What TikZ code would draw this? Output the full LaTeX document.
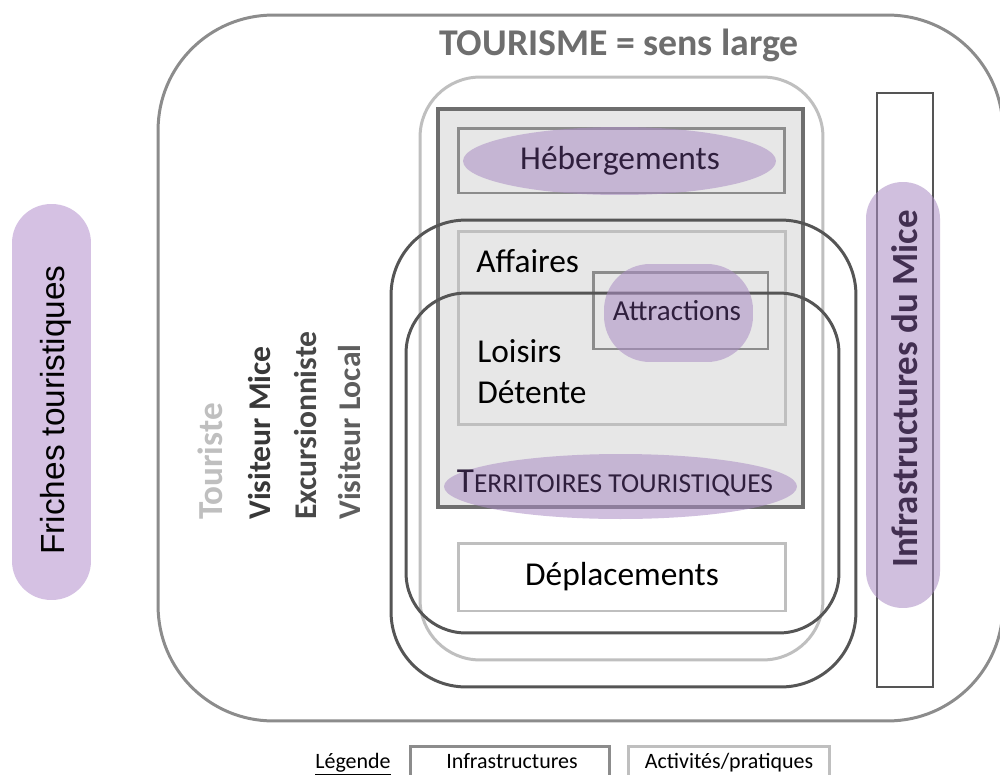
\documentclass[tikz,border=0pt]{standalone}
\usepackage{fontspec}
\setmainfont{Carlito}
\newfontfamily\arialf{Liberation Sans}
\usetikzlibrary{shapes.geometric}
\definecolor{purp}{RGB}{170,140,195}
\definecolor{ptext}{RGB}{47,31,61}
\definecolor{gmid}{RGB}{140,140,140}
\definecolor{glight}{RGB}{191,191,191}
\definecolor{gdark}{RGB}{110,110,110}
\definecolor{gblk}{RGB}{85,85,85}
\definecolor{gfill}{RGB}{231,231,231}
\definecolor{friche}{RGB}{213,193,227}
\begin{document}
\begin{tikzpicture}[x=0.02cm,y=-0.02cm,
  frame/.style={draw, inner sep=0pt, line width=1.7pt},
  infra/.style={frame, draw=gmid},
  activ/.style={frame, draw=glight},
  visit/.style={draw=gblk, inner sep=0pt, line width=1.7pt},
  blob/.style={fill=purp, fill opacity=0.55, text opacity=1, inner sep=0pt},
  lbl/.style={font=\fontsize{19pt}{22pt}\selectfont},
  vlbl/.style={rotate=90, anchor=base west, inner sep=0pt, font=\bfseries\fontsize{18pt}{20pt}\selectfont},
  leg/.style={font=\fontsize{12.5pt}{15pt}\selectfont}]
\clip (0,0) rectangle (1000,774);
\fill[white] (0,0) rectangle (1000,774);
% outer frame
\node[draw=gmid, line width=1.7pt, inner sep=0pt, rounded corners=2.3cm,
  minimum width=16.9cm, minimum height=14.12cm] (outer) at (580.5,368) {};
\node[font=\bfseries\fontsize{21.5pt}{24pt}\selectfont, text=gdark] (title) at (619,45) {TOURISME = sens large};
% activities rounded frame
\node[activ, rounded corners=1.2cm, minimum width=8.06cm, minimum height=11.66cm] (act) at (621.5,368.5) {};
% infrastructure frame
\node[frame, draw=gdark, line width=2.3pt, fill=gfill, minimum width=7.3cm, minimum height=7.96cm] (inf) at (620.5,308) {};
\node[infra, minimum width=6.54cm, minimum height=1.3cm] (hebbox) at (621.5,160.5) {};
\node[activ, minimum width=6.56cm, minimum height=3.88cm] (affbox) at (622,328) {};
\node[infra, minimum width=3.5cm, minimum height=1.54cm] (attbox) at (680.5,310.5) {};
\node[activ, fill=white, minimum width=6.56cm, minimum height=1.36cm] (depbox) at (622,577) {};
% visitor frames
\node[visit, rounded corners=1.5cm, minimum width=9.3cm, minimum height=9.34cm] (vis1) at (623.5,453.5) {};
\node[visit, rounded corners=1.2cm, minimum width=8.66cm, minimum height=6.8cm] (vis2) at (622.5,463) {};
% purple blobs
\node[blob, ellipse, minimum width=6.26cm, minimum height=1.36cm] (heb) at (619.5,161) {};
\node[blob, rounded corners=0.92cm, minimum width=2.98cm, minimum height=1.96cm] (att) at (678.5,313) {};
\node[blob, ellipse, minimum width=7.06cm, minimum height=1.3cm] (terr) at (620.5,486.5) {};
% texts
\node[lbl, text=ptext] (hebt) at (620,161) {Hébergements};
\node[lbl, anchor=base west, inner sep=0pt] (aff) at (476,272) {Affaires};
\node[font=\fontsize{16.5pt}{19pt}\selectfont, text=ptext] (attt) at (677,311) {Attractions};
\node[lbl, anchor=base west, inner sep=0pt] (lois) at (477,362) {Loisirs};
\node[lbl, anchor=base west, inner sep=0pt] (det) at (477,403) {Détente};
\node[text=ptext] (terrt) at (615,483) {{\fontsize{20pt}{22pt}\selectfont T}{\fontsize{15.6pt}{18pt}\selectfont ERRITOIRES TOURISTIQUES}};
\node[lbl] (dep) at (622,577) {Déplacements};
% vertical visitor labels
\node[vlbl, text=glight, font=\bfseries\fontsize{20pt}{22pt}\selectfont] (tour) at (222,520) {Touriste};
\node[vlbl, text=black!78] (vmice) at (270,520) {Visiteur Mice};
\node[vlbl, text=black!72] (exc) at (316,520) {Excursionniste};
\node[vlbl, text=black!63] (vloc) at (360,520) {Visiteur Local};
% MICE infrastructures
\node[draw=gblk, line width=0.8pt, inner sep=0pt, minimum width=1.12cm, minimum height=11.88cm] (micebox) at (905,390) {};
\node[blob, rounded corners=0.73cm, minimum width=1.48cm, minimum height=8.52cm] (mice) at (903,395) {};
\node[rotate=90, text=ptext!85!purp, font=\bfseries\fontsize{21pt}{24pt}\selectfont] (micet) at (905,389) {Infrastructures du Mice};
% friches
\node[fill=friche, inner sep=0pt, rounded corners=0.78cm, minimum width=1.58cm, minimum height=7.92cm] (fri) at (51.5,402) {};
\node[rotate=90, font=\arialf\fontsize{19pt}{22pt}\selectfont] (frit) at (56,410) {Friches touristiques};
% legend
\node[leg, anchor=base west, inner sep=0pt] (legt) at (315,768) {\underline{Légende}};
\node[infra, minimum width=4.0cm, minimum height=0.9cm] (leg1) at (510,769) {};
\node[leg, anchor=base] (leg1t) at (512,768) {Infrastructures};
\node[activ, minimum width=4.04cm, minimum height=0.9cm] (leg2) at (729,769) {};
\node[leg, anchor=base] (leg2t) at (729,768) {Activités/pratiques};
\end{tikzpicture}
\end{document}
